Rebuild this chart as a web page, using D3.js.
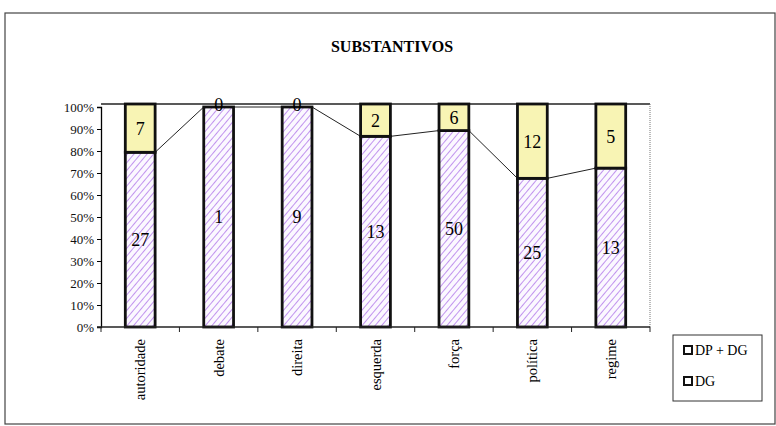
<!DOCTYPE html>
<html>
<head>
<meta charset="utf-8">
<script src="https://cdn.jsdelivr.net/npm/d3@7"></script>
<style>
  body { margin: 0; background: #fff; }
</style>
</head>
<body>
<div id="chart"></div>
<script>
var width = 776;
var height = 426;
var serif = "Liberation Serif";

// data
var categories = ['autoridade', 'debate', 'direita', 'esquerda', 'força', 'política', 'regime'];
var dg = [27, 1, 9, 13, 50, 25, 13];
var dpdg = [7, 0, 0, 2, 6, 12, 5];
var yTicks = [0, 0.1, 0.2, 0.3, 0.4, 0.5, 0.6, 0.7, 0.8, 0.9, 1];

// plot area
var margin = { top: 107, left: 101, right: 126, bottom: 99 };
var chartWidth = width - margin.left - margin.right;
var chartHeight = height - margin.top - margin.bottom;

var svg = d3.select('#chart').append('svg')
    .attr('width', width)
    .attr('height', height)
    .attr('font-family', serif);

var defs = svg.append('defs');
var hatch = defs.append('pattern')
    .attr('id', 'hatch')
    .attr('patternUnits', 'userSpaceOnUse')
    .attr('width', 5)
    .attr('height', 5)
    .attr('patternTransform', 'rotate(40)');
hatch.append('rect').attr('width', 5).attr('height', 5).attr('fill', '#fbf8ff');
hatch.append('line')
    .attr('x1', 0).attr('y1', 0).attr('x2', 0).attr('y2', 5)
    .attr('stroke', '#a25ee6')
    .attr('stroke-width', 1.3);

// outer frame
svg.append('rect')
    .attr('x', 5).attr('y', 13)
    .attr('width', 770).attr('height', 411)
    .attr('fill', 'none')
    .attr('stroke', '#444')
    .attr('stroke-width', 1.2);

svg.append('text')
    .attr('x', 392)
    .attr('y', 52)
    .attr('text-anchor', 'middle')
    .style('font-family', serif)
    .style('font-size', '16px')
    .style('font-weight', 'bold')
    .text('SUBSTANTIVOS');

var g = svg.append('g')
    .attr('transform', `translate(${margin.left}, ${margin.top})`);

var xScale = d3.scaleBand()
    .domain(categories)
    .range([0, chartWidth])
    .paddingInner(0.62)
    .paddingOuter(0.31);

var yScale = d3.scaleLinear()
    .domain([0, 1])
    .range([chartHeight, 0]);

var data = categories.map(function (c, i) {
    var total = dg[i] + dpdg[i];
    return { cat: c, dg: dg[i], dpdg: dpdg[i], p: dg[i] / total };
});

// top border of plot area
g.append('line')
    .attr('x1', 0).attr('x2', chartWidth)
    .attr('y1', yScale(1) - 3).attr('y2', yScale(1) - 3)
    .attr('stroke', '#222').attr('stroke-width', 1.3);
g.append('line')
    .attr('x1', chartWidth).attr('x2', chartWidth)
    .attr('y1', yScale(1) - 3).attr('y2', chartHeight)
    .attr('stroke', '#777').attr('stroke-width', 1)
    .attr('stroke-dasharray', '1,1');

// series lines
var bw = xScale.bandwidth();
for (var i = 0; i < data.length - 1; i++) {
    g.append('line')
        .attr('x1', xScale(data[i].cat) + bw)
        .attr('y1', yScale(data[i].p))
        .attr('x2', xScale(data[i + 1].cat))
        .attr('y2', yScale(data[i + 1].p))
        .attr('stroke', '#222')
        .attr('stroke-width', 1);
}

var bars = g.selectAll('.bar').data(data).enter().append('g');

bars.append('rect')
    .attr('x', d => xScale(d.cat))
    .attr('y', d => yScale(d.p))
    .attr('width', bw)
    .attr('height', d => chartHeight - yScale(d.p))
    .attr('fill', 'url(#hatch)')
    .attr('stroke', '#111')
    .attr('stroke-width', 2.8);

bars.filter(d => d.dpdg > 0).append('rect')
    .attr('x', d => xScale(d.cat))
    .attr('y', d => yScale(1) - 3)
    .attr('width', bw)
    .attr('height', d => yScale(d.p) - yScale(1) + 3)
    .attr('fill', '#f8f4b4')
    .attr('stroke', '#111')
    .attr('stroke-width', 2.8);

bars.append('text')
    .attr('x', d => xScale(d.cat) + bw / 2)
    .attr('y', d => (yScale(d.p) + chartHeight) / 2 + 6)
    .attr('text-anchor', 'middle')
    .style('font-family', serif)
    .style('font-size', '18px')
    .text(d => d.dg);

bars.append('text')
    .attr('x', d => xScale(d.cat) + bw / 2)
    .attr('y', d => d.dpdg > 0 ? (yScale(d.p) + yScale(1)) / 2 + 5 : yScale(1) + 4)
    .attr('text-anchor', 'middle')
    .style('font-family', serif)
    .style('font-size', '18px')
    .text(d => d.dpdg);

// axes
var yAxis = d3.axisLeft(yScale)
    .tickValues(yTicks)
    .tickFormat(d3.format('.0%'))
    .tickSize(4);
var yAxis_g = g.append('g').call(yAxis).attr('font-family', serif);
yAxis_g.selectAll('text')
    .style('font-family', serif)
    .style('font-size', '13px')
    .attr('fill', '#111');
yAxis_g.select('.domain').attr('stroke-width', 1.3);

var xAxis_g = g.append('g')
    .attr('transform', `translate(0, ${chartHeight})`);
xAxis_g.append('line')
    .attr('x1', -4).attr('x2', chartWidth)
    .attr('stroke', '#222').attr('stroke-width', 1.3);
var step = xScale.step();
d3.range(categories.length + 1).forEach(function (k) {
    xAxis_g.append('line')
        .attr('x1', k * step).attr('x2', k * step)
        .attr('y1', 0).attr('y2', 5)
        .attr('stroke', '#222');
});
xAxis_g.selectAll('.cat').data(categories).enter().append('text')
    .attr('transform', d => `translate(${xScale(d) + bw / 2 + 5}, 12) rotate(-90)`)
    .attr('text-anchor', 'end')
    .style('font-family', serif)
    .style('font-size', '14.5px')
    .text(d => d);

// legend
var legend = svg.append('g').attr('transform', 'translate(673, 335)');
legend.append('rect')
    .attr('width', 89).attr('height', 66)
    .attr('fill', 'none').attr('stroke', '#333').attr('stroke-width', 1);
var legendItems = ['DP + DG', 'DG'];
legendItems.forEach(function (name, k) {
    var yy = 15 + k * 31;
    legend.append('rect')
        .attr('x', 11).attr('y', yy - 4)
        .attr('width', 8).attr('height', 8)
        .attr('fill', '#fff').attr('stroke', '#111').attr('stroke-width', 2);
    legend.append('text')
        .attr('x', 22).attr('y', yy + 5)
        .style('font-family', serif)
        .style('font-size', '14px')
        .text(name);
});
</script>
</body>
</html>
